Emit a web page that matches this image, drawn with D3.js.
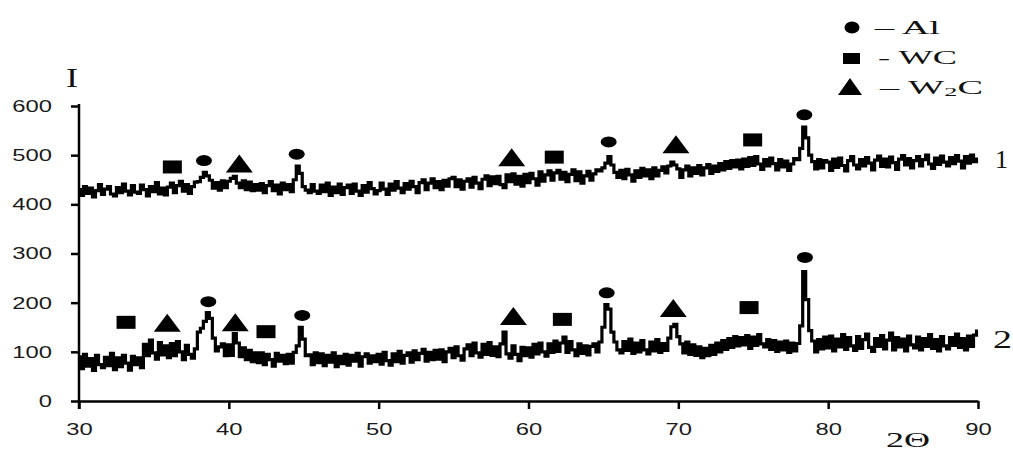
<!DOCTYPE html>
<html>
<head>
<meta charset="utf-8">
<script src="https://d3js.org/d3.v7.min.js"></script>
<style>
  body { margin: 0; background: #fff; }
  .tick text { font-family: "Liberation Sans", Arial, sans-serif; font-size: 17px; fill: #1a1a1a; }
  .axis path, .axis line { stroke: #000; stroke-width: 2.5; }
  .serif { font-family: "Liberation Serif", "Times New Roman", serif; fill: #111; }
  .trace { fill: none; stroke: #000; stroke-width: 3.2; }
</style>
</head>
<body>
<script>
// 2-theta sampling of the two patterns
var thetaStart = 30, thetaStep = 0.2;

// pattern 1 (upper), one row = 2 degrees
var curve1 = [
  430,418,436,422,433,415,428,440,420,431,
  436,421,417,434,424,441,427,419,438,425,
  422,439,430,417,436,426,444,421,433,419,
  435,443,424,438,447,427,440,422,436,445,
  446,455,465,458,449,433,444,429,448,434,
  447,453,457,443,434,448,430,445,428,440,
  429,442,424,438,446,428,439,421,443,430,
  440,426,450,478,463,436,429,424,440,427,
  422,439,426,443,418,435,424,441,420,434,
  439,422,441,427,418,438,425,444,432,421,
  428,443,431,420,441,429,446,433,424,442,
  431,447,436,424,444,450,430,443,452,434,
  446,430,449,437,452,455,436,450,431,447,
  452,435,455,443,432,451,458,438,456,442,
  457,440,434,460,446,462,441,457,437,461,
  444,463,452,439,466,447,460,468,449,464,
  469,451,465,446,461,470,448,466,443,458,
  467,449,462,470,468,474,484,497,480,465,
  455,469,452,471,460,447,468,455,473,458,
  470,452,474,458,469,476,464,478,486,480,
  472,455,470,478,458,474,463,479,460,474,
  481,463,478,467,483,470,487,473,489,476,
  490,472,492,477,495,479,497,482,471,491,
  478,494,483,470,491,476,488,469,482,493,
  491,514,557,535,500,487,472,491,474,489,
  486,469,492,475,494,479,468,489,497,480,
  472,491,478,495,484,470,490,498,477,492,
  476,496,485,471,492,499,480,493,474,489,
  497,478,491,500,482,473,494,481,498,486,
  478,495,483,499,488,474,497,484,500,487,
  492
];

// pattern 2 (lower)
var curve2 = [
  90,66,95,71,86,62,93,74,68,89,
  72,97,64,88,70,93,77,63,91,74,
  88,68,115,92,124,98,85,119,94,112,
  88,117,92,121,100,84,113,95,87,106,
  140,148,162,180,168,128,102,110,116,92,
  114,93,137,118,90,108,84,103,80,98,
  78,98,74,95,84,71,97,81,93,76,
  95,77,99,112,150,126,92,94,74,98,
  78,96,72,93,79,98,70,91,76,95,
  73,93,81,97,71,90,96,77,92,80,
  95,75,99,82,73,96,80,101,77,93,
  98,79,102,84,97,105,81,99,84,103,
  85,104,80,100,107,88,110,92,83,106,
  114,92,118,98,89,115,95,119,93,110,
  90,116,140,96,87,112,95,82,109,92,
  108,89,115,96,118,100,91,116,99,122,
  101,118,130,99,121,104,92,116,97,112,
  94,111,116,100,120,150,196,187,140,120,
  104,98,121,103,126,97,118,100,123,104,
  96,120,102,125,99,117,103,128,151,156,
  131,116,98,120,95,114,93,110,88,107,
  92,113,95,118,100,123,105,127,109,131,
  112,129,114,133,107,130,113,135,116,110,
  125,105,123,101,120,104,122,99,118,102,
  117,153,263,206,143,122,100,125,106,130,
  108,132,102,126,110,135,105,129,112,103,
  131,107,125,136,109,101,127,111,133,106,
  124,138,104,129,110,126,102,132,114,108,
  130,104,127,111,135,107,125,102,131,112,
  106,129,113,136,109,127,104,132,111,134,
  142
];

var xTicks = [30, 40, 50, 60, 70, 80, 90];
var yTicks = [0, 100, 200, 300, 400, 500, 600];

// phase markers placed above the peaks
var markerKind  = ["square","circle","triangle","circle","triangle","square","circle","triangle","square","circle",
                   "square","triangle","circle","triangle","square","circle","triangle","square","circle","triangle","square","circle"];
var markerTheta = [36.23,38.34,40.70,44.53,58.88,61.72,65.35,69.84,74.96,78.41,
                   33.14,35.89,38.63,40.43,42.48,44.90,58.99,62.26,65.22,69.66,74.72,78.45];
var markerI     = [476,489,483,502,496,496,527,522,531,582,
                   160,159,202,160,141,174,173,166,220,189,190,292];

var legendKind  = ["circle", "square", "triangle"];
var legendLabel = ["\u2013 Al", "- WC", "\u2013 W2C"];

var W = 1013, H = 454;
var margin = {left: 79, right: 35, top: 106, bottom: 53};

var x = d3.scaleLinear().domain([30, 90]).range([margin.left, W - margin.right]);
var y = d3.scaleLinear().domain([0, 600]).range([H - margin.bottom, margin.top]);

var svg = d3.select("body").append("svg")
  .attr("width", W).attr("height", H);

// traces
var line = d3.line()
  .x(function(d, i) { return x(thetaStart + i * thetaStep); })
  .y(function(d) { return y(d); })
  .curve(d3.curveStep);

svg.append("path").datum(curve1).attr("class", "trace").attr("d", line);
svg.append("path").datum(curve2).attr("class", "trace").attr("d", line);

// axes
var sx = 1.4;
var gx = svg.append("g").attr("class", "axis")
  .attr("transform", "translate(0," + y(0) + ")")
  .call(d3.axisBottom(x).tickValues(xTicks).tickSizeInner(8).tickSizeOuter(0).tickFormat(d3.format("d")));
gx.selectAll("text").attr("y", 22).attr("transform", "scale(" + sx + ",1)");

var gy = svg.append("g").attr("class", "axis")
  .attr("transform", "translate(" + x(30) + ",0)")
  .call(d3.axisLeft(y).tickValues(yTicks).tickSizeInner(8).tickSizeOuter(0).tickFormat(d3.format("d")));
gy.selectAll("text").attr("x", -27 / sx).attr("transform", "scale(" + sx + ",1)");
gy.select(".domain").attr("d", "M0," + (y(600) - 2) + "V" + (y(0) + 8));

// marker shapes
function drawMark(g, kind, cx, cy, w, h) {
  if (kind === "circle") {
    g.append("ellipse").attr("cx", cx).attr("cy", cy).attr("rx", w / 2).attr("ry", h / 2).attr("fill", "#000");
  } else if (kind === "square") {
    g.append("rect").attr("x", cx - w / 2).attr("y", cy - h / 2).attr("width", w).attr("height", h).attr("fill", "#000");
  } else {
    g.append("path")
      .attr("d", "M" + (cx - w / 2) + "," + (cy + h / 2) + "L" + cx + "," + (cy - h / 2) + "L" + (cx + w / 2) + "," + (cy + h / 2) + "Z")
      .attr("fill", "#000");
  }
}
var size = {circle: [16, 11], square: [19, 13], triangle: [27, 18]};
var gm = svg.append("g");
markerKind.forEach(function(k, i) {
  drawMark(gm, k, x(markerTheta[i]), y(markerI[i]), size[k][0], size[k][1]);
});

// legend
var legSym = [[852, 27.5, 15, 12], [851.5, 58.5, 17, 11], [850, 86.5, 24, 17]];
var legText = [[875, 34, 65], [878, 64, 79], [880, 94, 103]];
var gl = svg.append("g");
legendKind.forEach(function(k, i) {
  drawMark(gl, k, legSym[i][0], legSym[i][1], legSym[i][2], legSym[i][3]);
  var t = gl.append("text").attr("class", "serif")
    .attr("x", legText[i][0]).attr("y", legText[i][1])
    .attr("font-size", 19)
    .attr("textLength", legText[i][2]).attr("lengthAdjust", "spacingAndGlyphs");
  if (legendLabel[i].indexOf("W2C") >= 0) {
    t.append("tspan").text("\u2013 W");
    t.append("tspan").attr("font-size", 13).attr("dy", 2).text("2");
    t.append("tspan").attr("dy", -2).text("C");
  } else {
    t.text(legendLabel[i]);
  }
});

// axis titles and curve numbers
function label(txt, px, py, fs, len) {
  svg.append("text").attr("class", "serif")
    .attr("x", px).attr("y", py).attr("font-size", fs)
    .attr("textLength", len).attr("lengthAdjust", "spacingAndGlyphs")
    .text(txt);
}
label("I", 66, 87, 27, 12);
label("2\u0398", 886, 447, 22, 44);
label("1", 995, 168, 25, 13);
label("2", 993, 348, 25, 19);
</script>
</body>
</html>
